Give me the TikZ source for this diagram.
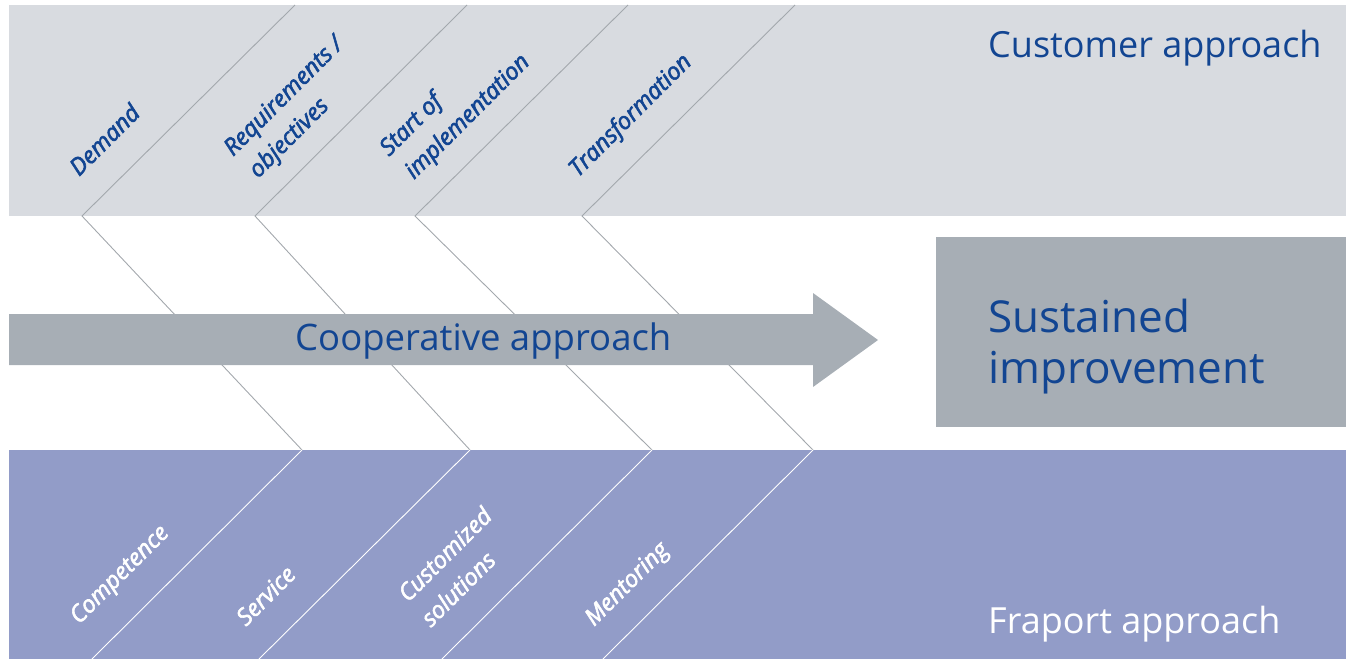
\documentclass[tikz,border=0pt]{standalone}
\usepackage{fontspec}
\setmainfont{Open Sans}
\newfontfamily\labfont[ItalicFeatures={FakeBold=2.5}]{Open Sans}
\definecolor{topgrey}{HTML}{D8DBE0}
\definecolor{midgrey}{HTML}{A7AEB5}
\definecolor{botblue}{HTML}{929CC8}
\definecolor{txtblue}{HTML}{124592}
\definecolor{linegrey}{HTML}{A3A8AD}
\tikzset{
  fishline/.style={draw=linegrey, line width=0.9pt},
  whiteline/.style={draw=white, line width=0.9pt},
  toplabel/.style={rotate=45, anchor=base west, inner sep=0pt, text=txtblue, font=\labfont\fontsize{23.5}{28}\selectfont\itshape},
  botlabel/.style={rotate=45, anchor=base west, inner sep=0pt, text=white, font=\labfont\fontsize{23.5}{28}\selectfont\itshape},
  bigtitle/.style={anchor=base west, inner sep=0pt, font=\fontsize{36}{42}\selectfont}
}
\begin{document}
\begin{tikzpicture}[x=1pt,y=-1pt]
\useasboundingbox (0,0) rectangle (1346,659);
% bands
\fill[topgrey] (9,5) rectangle (1346,216);
\fill[botblue] (9,450) rectangle (1346,659);
\node[fill=midgrey, minimum width=410pt, minimum height=190pt, anchor=north west, inner sep=0pt] (goal) at (936,237) {};
% coordinates
\coordinate (a1) at (82,216);  \coordinate (a2) at (255,216);  \coordinate (a3) at (415,216);  \coordinate (a4) at (582,216);
\coordinate (u1) at (295,5);   \coordinate (u2) at (467,5);    \coordinate (u3) at (628,5);    \coordinate (u4) at (795,5);
\coordinate (b1) at (302,450); \coordinate (b2) at (470,450);  \coordinate (b3) at (652,450);  \coordinate (b4) at (813,450);
\coordinate (d1) at (92,659);  \coordinate (d2) at (259,659);  \coordinate (d3) at (442,659);  \coordinate (d4) at (603,659);
\foreach \i in {1,2,3,4}{
  \draw[fishline] (u\i) -- (a\i) -- (b\i);
  \draw[whiteline] (b\i) -- (d\i);
}
% arrow
\fill[midgrey] (9,314) -- (813,314) -- (813,293) -- (878,340) -- (813,387) -- (813,365) -- (9,365) -- cycle;
\node[text=txtblue, font=\fontsize{36.5}{42}\selectfont, inner sep=0pt, anchor=base west] (coop) at (295,350) {Cooperative approach};
% titles
\node[bigtitle, text=txtblue] (cust) at (988,57) {Customer approach};
\node[bigtitle, text=white] (frap) at (988,633) {Fraport approach};
\node[anchor=base west, inner sep=0pt, text=txtblue, align=left, font=\fontsize{44}{51}\selectfont] (sust) at (988,383) {Sustained\\improvement};
% top labels
\node[toplabel] (dem) at (79,177) {Demand};
\node[toplabel] (req1) at (233,157) {Requirements /};
\node[toplabel] (req2) at (258,179) {objectives};
\node[toplabel] (st1) at (389,157) {Start of};
\node[toplabel] (st2) at (414,180) {implementation};
\node[toplabel] (tra) at (578,178) {Transformation};
% bottom labels
\node[botlabel] (com) at (79,625) {Competence};
\node[botlabel] (ser) at (246,627) {Service};
\node[botlabel] (cus1) at (408,603) {Customized};
\node[botlabel] (cus2) at (431,628) {solutions};
\node[botlabel] (men) at (594,627) {Mentoring};
\end{tikzpicture}
\end{document}
